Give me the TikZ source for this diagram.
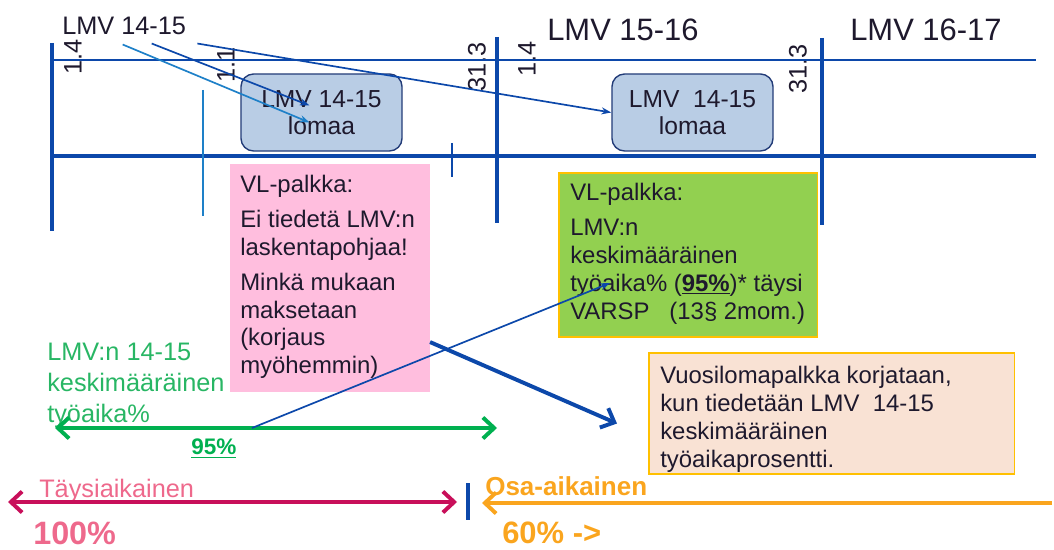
\documentclass[tikz,border=0pt]{standalone}
\usepackage{fontspec}
\setmainfont{Liberation Sans}
\usetikzlibrary{arrows.meta,calc}

\definecolor{lineblue}{RGB}{12,72,170}
\definecolor{lightblue}{RGB}{30,128,200}
\definecolor{lomaafill}{RGB}{185,205,229}
\definecolor{lomaadraw}{RGB}{35,60,120}
\definecolor{pinkfill}{RGB}{255,190,222}
\definecolor{greenfill}{RGB}{146,208,80}
\definecolor{boxorange}{RGB}{255,192,0}
\definecolor{peachfill}{RGB}{249,226,212}
\definecolor{tyogreen}{RGB}{0,176,80}
\definecolor{tyotext}{RGB}{40,182,100}
\definecolor{crimson}{RGB}{200,15,90}
\definecolor{fullpink}{RGB}{238,105,140}
\definecolor{partorange}{RGB}{250,165,30}
\definecolor{textdark}{RGB}{30,25,45}

\tikzset{
	lomaa/.style={draw=lomaadraw, line width=1pt, fill=lomaafill, rounded corners=9pt,
		minimum width=4.025cm, minimum height=1.925cm, align=center, inner sep=0,
		font=\fontsize{17.5}{19.1}\selectfont, text=textdark},
	vlbox/.style={anchor=north west, inner sep=0, outer sep=0},
	boxtext/.style={anchor=north west, align=left, inner sep=0, text=textdark,
		font=\fontsize{17}{19.8}\selectfont},
	pvm/.style={rotate=90, inner sep=0, text=textdark, font=\fontsize{18}{20}\selectfont},
	thinarrow/.style={line width=1.2pt, -{Stealth[length=7pt,width=5pt]}},
	barbtip/.tip={Straight Barb[length=8pt,width=15pt]},
	bigline/.style={line width=2.8pt}
}

\begin{document}
\begin{tikzpicture}[x=0.025cm,y=-0.025cm]
		\useasboundingbox (0,0) rectangle (1054,550);
		\def\ytop{60};
		\def\ybot{156};
		
		% paivamaarat
		\foreach \x/\y/\d [count=\i] in {73/57/1.4, 226/65/1.1, 477/67/31.3, 527/59/1.4, 798/69/31.3}
			\node[pvm] (pvm\i) at (\x,\y) {\d};
		
		% aikajana
		\draw[lineblue, line width=1.6pt] (52,\ytop) -- (1036,\ytop);
		\draw[lineblue, line width=3.5pt] (52,\ybot) -- (1036,\ybot);
		\foreach \x/\ya/\yb in {52/43/231, 497/37/223, 822/38/225}
			\draw[lineblue, bigline] (\x,\ya) -- (\x,\yb);
		\draw[lightblue, line width=2.1pt] (203,90) -- (203,216);
		\draw[lineblue, line width=2.1pt] (452,143) -- (452,177);
		
		\node[anchor=base west, inner sep=0, text=textdark, font=\fontsize{18}{20}\selectfont] (lmv1415) at (62,35) {LMV 14-15};
		\node[anchor=base west, inner sep=0, text=textdark, font=\fontsize{22}{24}\selectfont] (lmv1516) at (547,41) {LMV 15-16};
		\node[anchor=base west, inner sep=0, text=textdark, font=\fontsize{22}{24}\selectfont] (lmv1617) at (850,41) {LMV 16-17};
		
		\node[lomaa] (loma1) at (321.5,112.5) {LMV 14-15\\lomaa};
		\node[lomaa] (loma2) at (692.5,112.5) {LMV\ \ 14-15\\lomaa};
		
		\draw[thinarrow, lightblue] ($(lmv1415.south)+(-1.5,9)$) -- ($(loma1.center)+(-12,10)$);
		\draw[thinarrow, lineblue] ($(lmv1415.south)+(27.5,8)$) -- ($(loma1.center)+(-12,-7)$);
		\draw[thinarrow, lineblue] ($(lmv1415.south east)+(11,8)$) -- (loma2.west);
		
		% VL-palkka laatikot
		\node[vlbox, fill=pinkfill, minimum width=5cm, minimum height=5.7cm] (vlpink) at (230,164) {};
		\node[boxtext] (vlpinkteksti) at (240,175) {VL-palkka:\\[5pt] Ei tiedetä LMV:n\\ laskentapohjaa!\\[5pt]
			Minkä mukaan\\ maksetaan\\ (korjaus\\ myöhemmin)};
		
		\node[vlbox, fill=greenfill, draw=boxorange, line width=0.8pt, minimum width=6.45cm, minimum height=4.1cm] (vlgreen) at (559,173) {};
		\node[boxtext] (vlgreenteksti) at (570,183) {VL-palkka:\\[5pt] LMV:n\\ keskimääräinen\\
			työaika\% (\underline{\textbf{95\%}})* täysi\\ VARSP\ \ \ (13§ 2mom.)};
		
		\node[vlbox, fill=peachfill, draw=boxorange, line width=0.8pt, minimum width=9.125cm, minimum height=3.025cm] (korjaus) at (649,353) {};
		\node[boxtext] (korjausteksti) at (660,366) {Vuosilomapalkka korjataan,\\ kun tiedetään LMV\ \ 14-15\\
			keskimääräinen\\ työaikaprosentti.};
		
		% tyoaika%
		\node[anchor=north west, align=left, inner sep=0, text=tyotext, font=\fontsize{18}{22}\selectfont] (tyoaika) at (47,343)
			{LMV:n 14-15\\ keskimääräinen\\ työaika\%};
		\coordinate (tyoL) at (55,428);
		\coordinate (tyoR) at (497,428);
		\coordinate (viite95) at (252,428);
		\draw[tyogreen, bigline, barbtip-barbtip] (tyoL) -- (tyoR);
		\node[anchor=base west, inner sep=0, text=tyogreen, font=\fontsize{16}{18}\selectfont\bfseries] (pros95) at (191,455) {\underline{95\%}};
		\draw[thinarrow, lineblue] (viite95) -- ($(vlgreen.north west)+(51,110)$);
		\draw[lineblue, bigline, -barbtip] ($(vlpink.south east)+(0,-50)$) -- ($(korjaus.west)+(-32,10)$);
		
		% taysi- ja osa-aikainen
		\node[anchor=base west, inner sep=0, text=fullpink, font=\fontsize{18}{20}\selectfont] (taysi) at (39,497) {Täysiaikainen};
		\node[anchor=base west, inner sep=0, text=partorange, font=\fontsize{18.5}{20}\selectfont\bfseries] (osa) at (485,495) {Osa-aikainen};
		\node[anchor=base west, inner sep=0, text=fullpink, font=\fontsize{23}{25}\selectfont\bfseries] (sata) at (33,544) {100\%};
		\node[anchor=base west, inner sep=0, text=partorange, font=\fontsize{22}{24}\selectfont\bfseries] (kuusikymmenta) at (502,543) {60\% ->};
		\coordinate (taysiL) at (8,502);
		\coordinate (taysiR) at (457,502);
		\coordinate (osaR) at (1052,503);
		\coordinate (osaL) at (482,503);
		\draw[crimson, bigline, barbtip-barbtip] (taysiL) -- (taysiR);
		\draw[partorange, bigline, -barbtip] (osaR) -- (osaL);
		\draw[lineblue, bigline] (468,483) -- (468,520);
\end{tikzpicture}
\end{document}
